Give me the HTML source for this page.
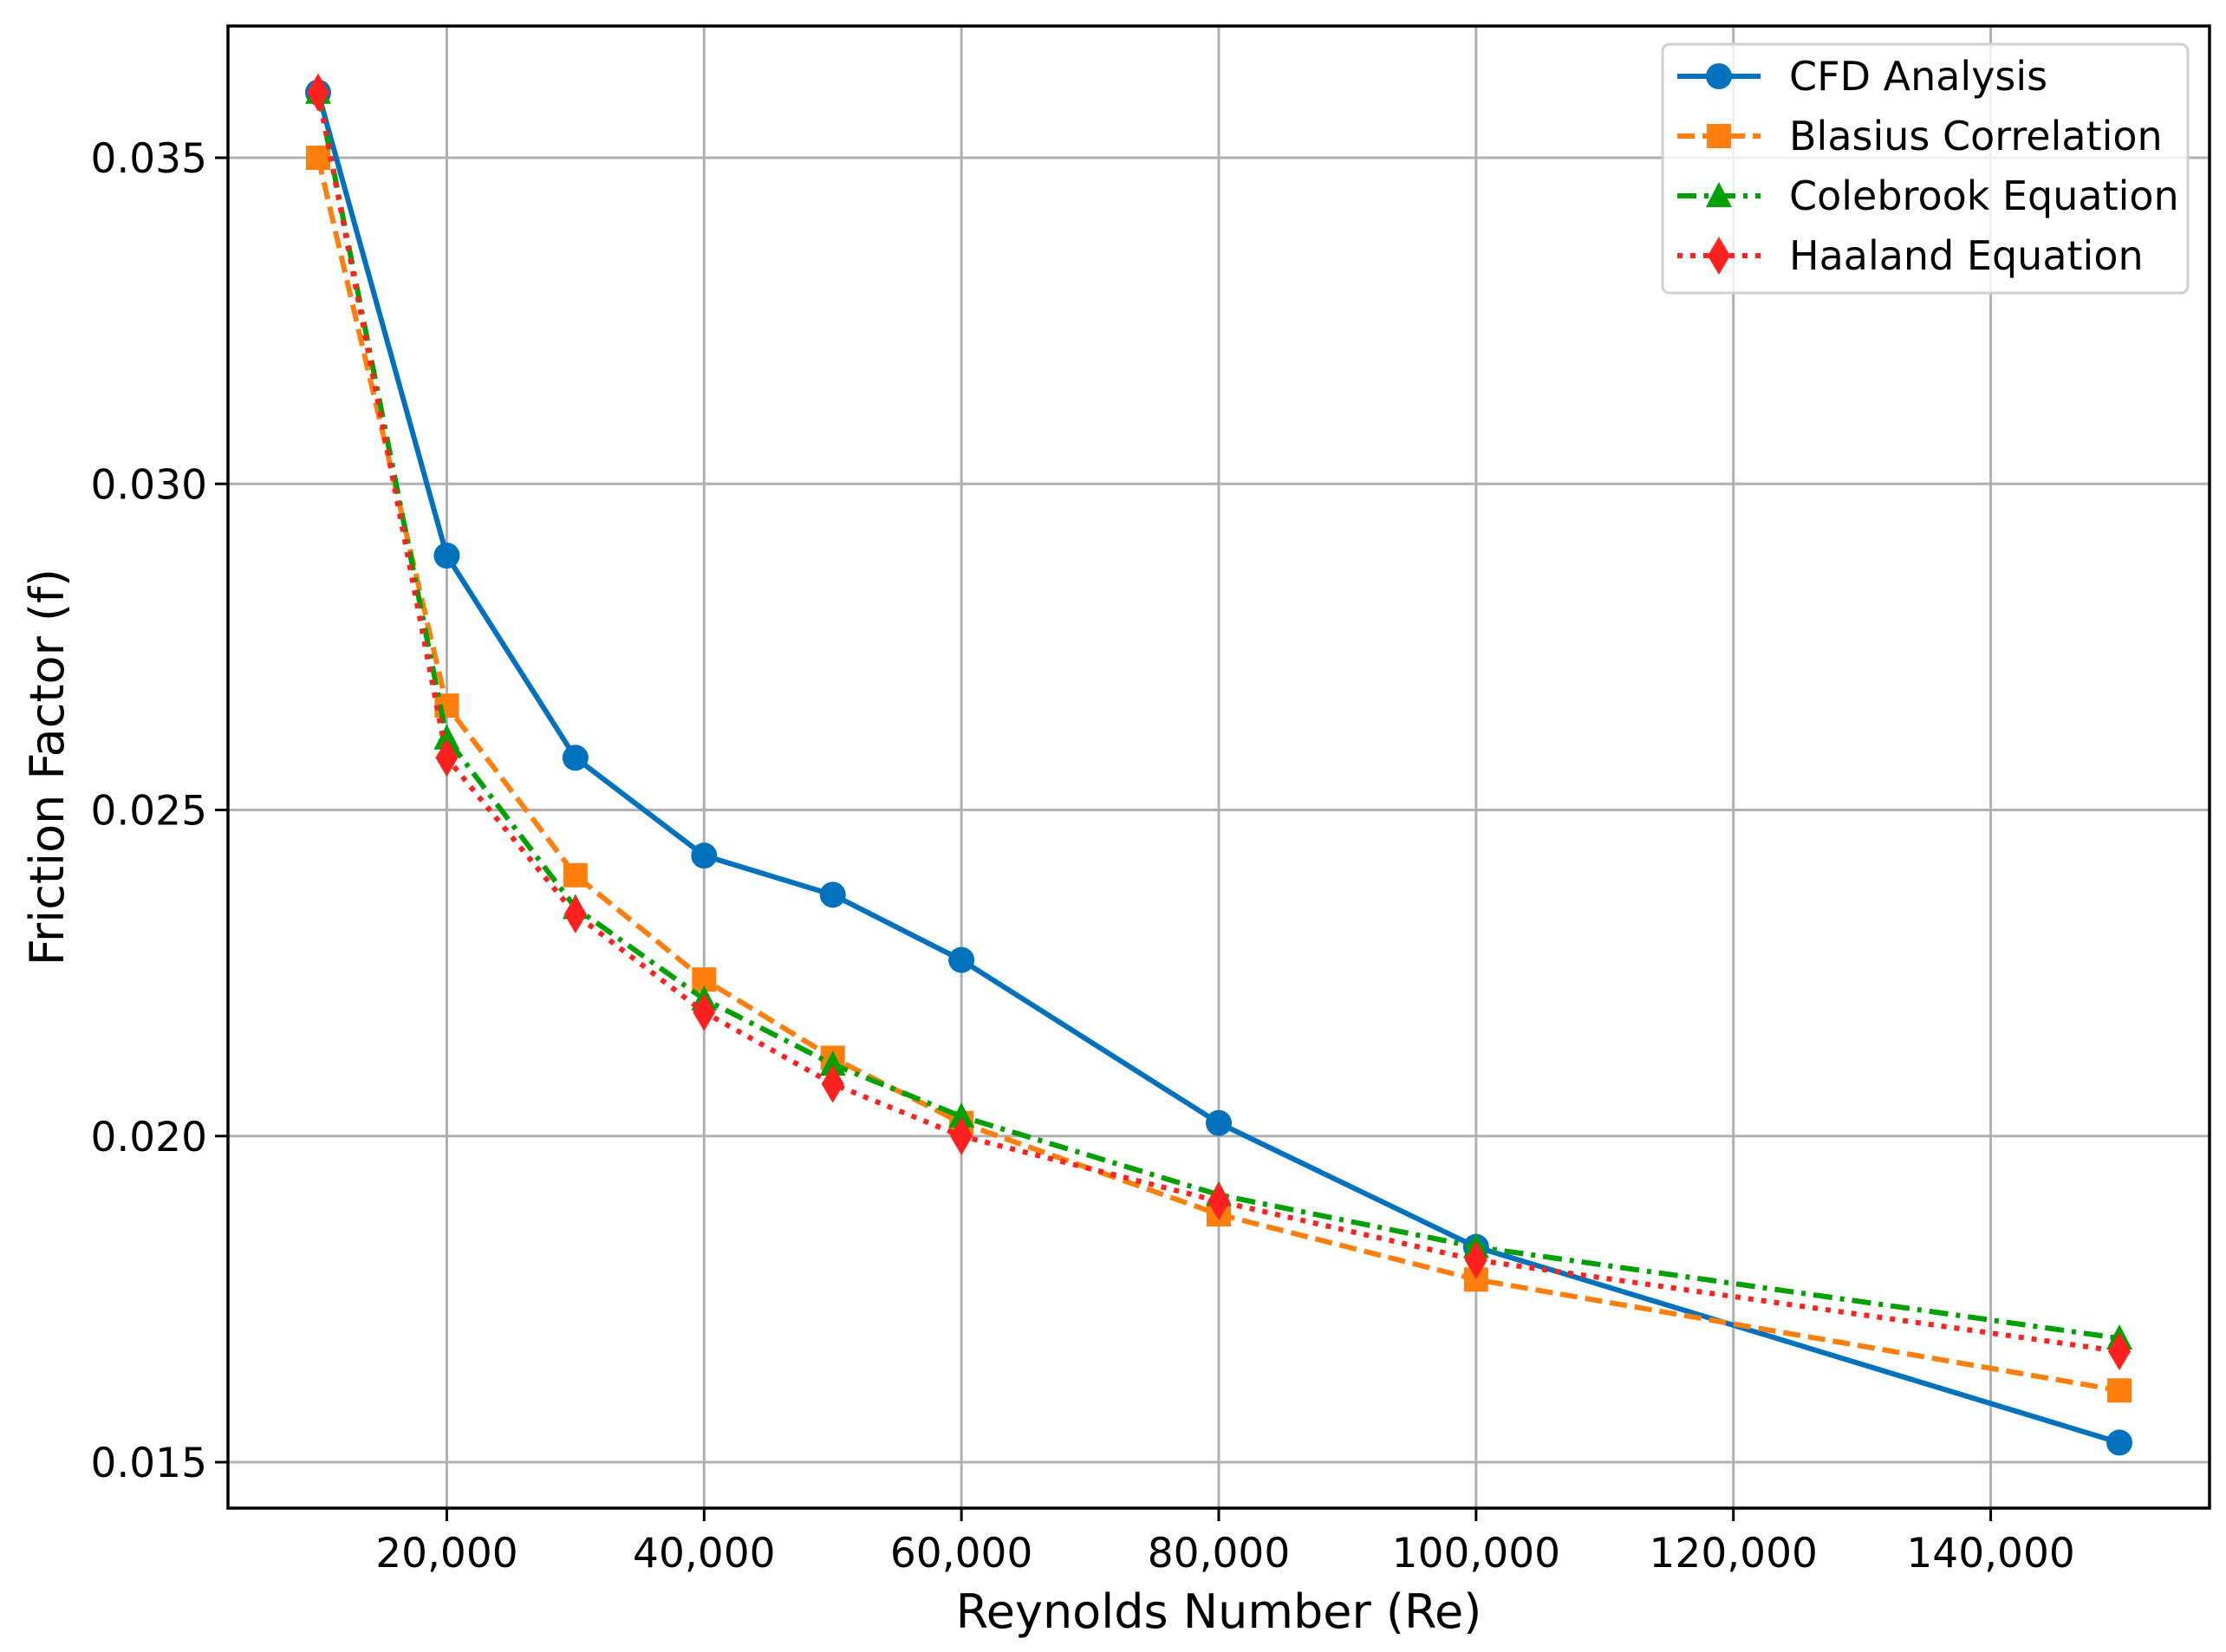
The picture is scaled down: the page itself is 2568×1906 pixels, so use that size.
<!DOCTYPE html>
<html><head><meta charset="utf-8"><style>
html,body{margin:0;padding:0;background:#fff}
svg{display:block;font-family:"DejaVu Sans","Liberation Sans",sans-serif}
</style></head><body>
<svg id="chart" width="2568" height="1906" viewBox="0 0 2568 1906" xmlns="http://www.w3.org/2000/svg">
<rect width="2568" height="1906" fill="#fff"/>
<g id="grid"></g>
<g id="axes"></g>
<g id="series"></g>
<g id="legend"></g>
</svg>
<script>
const reynolds = [10000, 20000, 30000, 40000, 50000, 60000, 80000, 100000, 150000];
const cfdValues = [0.0360, 0.0289, 0.0258, 0.0243, 0.0237, 0.0227, 0.0202, 0.0183, 0.0153];
const blasiusValues = [0.0350, 0.0266, 0.0240, 0.0224, 0.0212, 0.0202, 0.0188, 0.0178, 0.0161];
const colebrookValues = [0.0360, 0.0261, 0.0235, 0.0221, 0.0211, 0.0203, 0.0191, 0.0183, 0.0169];
const haalandValues = [0.0360, 0.0258, 0.0234, 0.0219, 0.0208, 0.0200, 0.0190, 0.0181, 0.0167];
const xTicks = [20000, 40000, 60000, 80000, 100000, 120000, 140000];
const xTickLabels = ["20,000","40,000","60,000","80,000","100,000","120,000","140,000"];
const yTicks = [0.015, 0.020, 0.025, 0.030, 0.035];
const yTickLabels = ["0.015","0.020","0.025","0.030","0.035"];
const seriesNames = ["CFD Analysis","Blasius Correlation","Colebrook Equation","Haaland Equation"];

const NS = "http://www.w3.org/2000/svg";
const L = 263, R = 2549, T = 30, B = 1740;
function xs(v){ return 367 + (v - 10000) * (2445 - 367) / 140000; }
function ys(v){ return 1687 + (v - 0.015) * (182 - 1687) / 0.020; }
function mk(tag, attrs, parent){ const e = document.createElementNS(NS, tag); for (const k in attrs) e.setAttribute(k, attrs[k]); parent.appendChild(e); return e; }

const grid = document.getElementById('grid'), axes = document.getElementById('axes'), ser = document.getElementById('series'), leg = document.getElementById('legend');

xTicks.forEach((t, i) => {
  const x = xs(t);
  const g = mk('line', {x1:x, x2:x, y1:T, y2:B, stroke:'#b0b0b0', 'stroke-width':3}, grid);
  
  
  const tk = mk('line', {x1:x, x2:x, y1:B, y2:B+15, stroke:'#000', 'stroke-width':3}, axes);
  
  
  const tx = mk('text', {x:x, y:B+68, 'font-size':47, 'text-anchor':'middle', fill:'#000'}, axes);
  tx.textContent = xTickLabels[i];
  
  
});
yTicks.forEach((t, i) => {
  const y = ys(t);
  const g = mk('line', {x1:L, x2:R, y1:y, y2:y, stroke:'#b0b0b0', 'stroke-width':3}, grid);
  
  
  const tk = mk('line', {x1:L-15, x2:L, y1:y, y2:y, stroke:'#000', 'stroke-width':3}, axes);
  
  
  const tx = mk('text', {x:L-24, y:y+17, 'font-size':47, 'text-anchor':'end', fill:'#000'}, axes);
  tx.textContent = yTickLabels[i];
  
  
});
const frame = mk('rect', {x:L, y:T, width:R-L, height:B-T, fill:'none', stroke:'#000', 'stroke-width':3.5}, axes);


const xl = mk('text', {x:(L+R)/2, y:1878, 'font-size':54, 'text-anchor':'middle', fill:'#000'}, axes);
xl.textContent = 'Reynolds Number (Re)';


const yl = mk('text', {x:0, y:0, 'font-size':54, 'text-anchor':'middle', fill:'#000', transform:'translate(73,885) rotate(-90)'}, axes);
yl.textContent = 'Friction Factor (f)';



const styles = [
  {color:'#0072bd', dash:'', marker:'circle', key:'cfd'},
  {color:'#ff7f0e', dash:'20 9', marker:'square', key:'blasius'},
  {color:'#00a000', dash:'22 9 5 9', marker:'triangle', key:'colebrook'},
  {color:'#ff2020', dash:'6 9', marker:'diamond', key:'haaland'}
];
const allValues = [cfdValues, blasiusValues, colebrookValues, haalandValues];

function marker(type, x, y, color, parent){
  let e;
  if (type === 'circle') e = mk('circle', {cx:x, cy:y, r:15, fill:color}, parent);
  else if (type === 'square') e = mk('rect', {x:x-14, y:y-14, width:28, height:28, fill:color}, parent);
  else if (type === 'triangle') e = mk('polygon', {points:`${x},${y-16} ${x-15},${y+13} ${x+15},${y+13}`, fill:color}, parent);
  else e = mk('polygon', {points:`${x},${y-22} ${x-13},${y} ${x},${y+22} ${x+13},${y}`, fill:color}, parent);
  return e;
}

allValues.forEach((vals, si) => {
  const st = styles[si];
  const g = mk('g', {}, ser);
  
  
  const pts = reynolds.map((r, i) => xs(r) + ',' + ys(vals[i])).join(' ');
  const pl = mk('polyline', {points:pts, fill:'none', stroke:st.color, 'stroke-width':6, 'stroke-dasharray':st.dash}, g);
  
  
  reynolds.forEach((r, i) => {
    const m = marker(st.marker, xs(r), ys(vals[i]), st.color, g);
    
    
  });
});

const box = mk('rect', {x:1918, y:51, width:606, height:287, rx:8, fill:'#fff', 'fill-opacity':0.8, stroke:'#d0d0d0', 'stroke-width':3}, leg);


seriesNames.forEach((n, i) => {
  const st = styles[i];
  const y = 88 + i * 69;
  const g = mk('g', {}, leg);
  
  
  mk('line', {x1:1935, x2:2031, y1:y, y2:y, stroke:st.color, 'stroke-width':6, 'stroke-dasharray':st.dash}, g);
  marker(st.marker, 1983, y, st.color, g);
  const t = mk('text', {x:2064, y:y+16, 'font-size':46, fill:'#000'}, g);
  t.textContent = n;
});
</script>
</body></html>
